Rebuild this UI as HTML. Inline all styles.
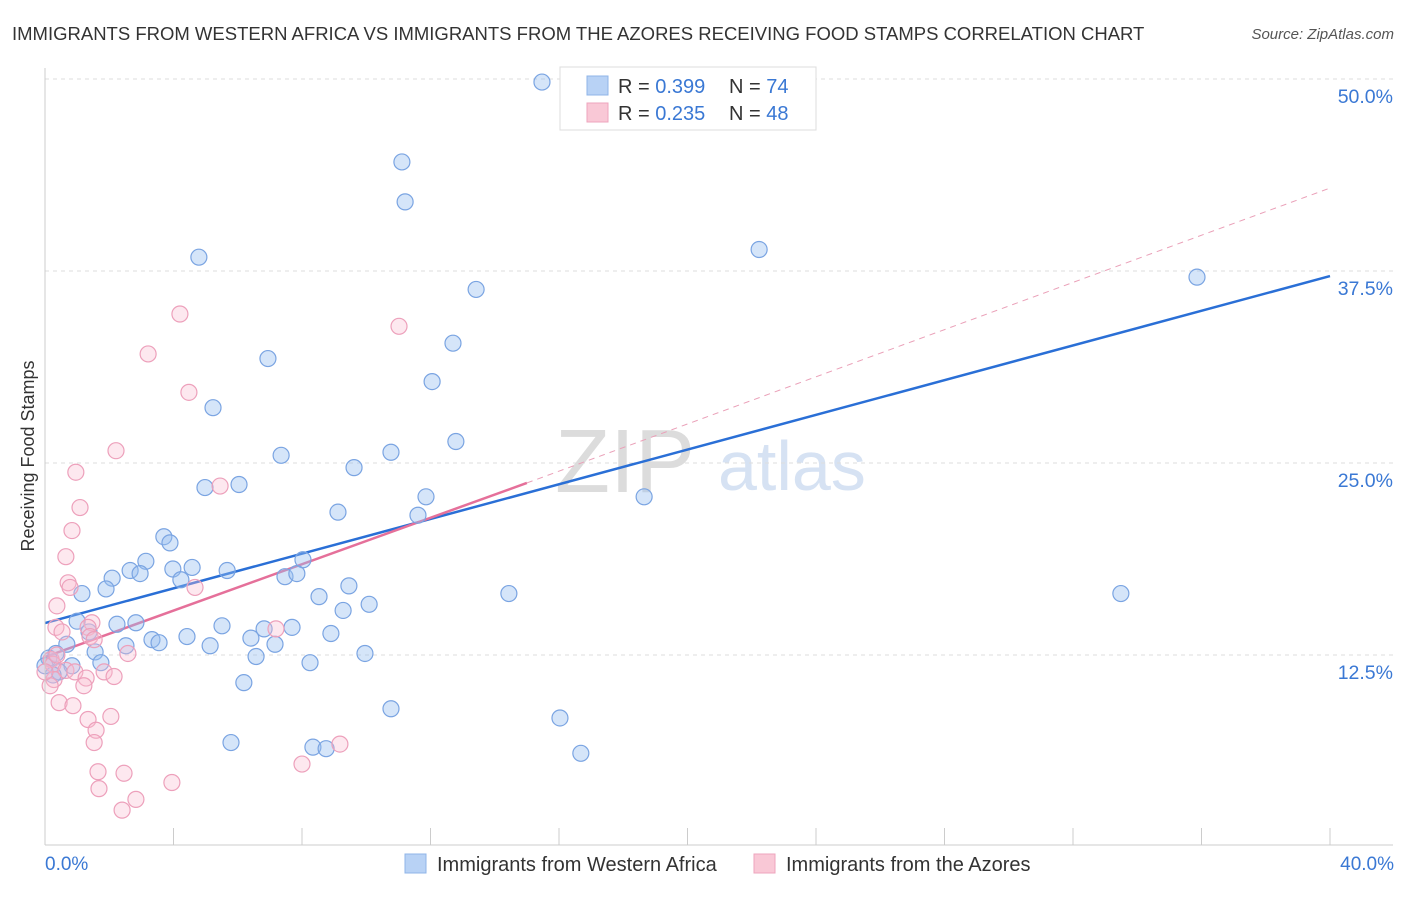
<!DOCTYPE html>
<html><head><meta charset="utf-8"><style>
body{margin:0;background:#fff;font-family:"Liberation Sans",sans-serif;}
svg text{font-family:"Liberation Sans",sans-serif;}
</style></head><body>
<svg id="chart" width="1406" height="892">
<text x="12" y="40" font-size="18.5" fill="#333">IMMIGRANTS FROM WESTERN AFRICA VS IMMIGRANTS FROM THE AZORES RECEIVING FOOD STAMPS CORRELATION CHART</text>
<text x="1394" y="39" font-size="15" fill="#555" font-style="italic" text-anchor="end">Source: ZipAtlas.com</text>
<text x="34" y="456" font-size="18" fill="#333" text-anchor="middle" transform="rotate(-90 34 456)">Receiving Food Stamps</text>
<text x="555" y="492" font-size="90" fill="#dcdcdc" font-family="Liberation Serif">ZIP</text>
<text x="718" y="490" font-size="70" fill="#d6e2f3">atlas</text>
<g id="grid"></g><g id="xticks"></g><g id="trend"></g><g id="pts"></g>
<line x1="45" y1="68" x2="45" y2="845" stroke="#ccc"/>
<line x1="45" y1="845" x2="1393" y2="845" stroke="#ccc"/>
<text x="45" y="870" font-size="19" fill="#3a78d4">0.0%</text>
<text x="1394" y="870" font-size="19" fill="#3a78d4" text-anchor="end">40.0%</text>
<g>
<rect x="560" y="67" width="256" height="63" fill="#fff" stroke="#ddd"/>
<rect x="587" y="76" width="21" height="19" fill="#b8d2f5" stroke="#8fb4e8"/>
<rect x="587" y="103" width="21" height="19" fill="#f9c8d6" stroke="#eea5bd"/>
<text x="618" y="93" font-size="20" fill="#333">R = <tspan fill="#3a78d4">0.399</tspan></text>
<text x="729" y="93" font-size="20" fill="#333">N = <tspan fill="#3a78d4">74</tspan></text>
<text x="618" y="120" font-size="20" fill="#333">R = <tspan fill="#3a78d4">0.235</tspan></text>
<text x="729" y="120" font-size="20" fill="#333">N = <tspan fill="#3a78d4">48</tspan></text>
</g>
<g>
<rect x="405" y="854" width="21" height="19" fill="#b8d2f5" stroke="#8fb4e8"/>
<text x="437" y="871" font-size="20" fill="#333">Immigrants from Western Africa</text>
<rect x="754" y="854" width="21" height="19" fill="#f9c8d6" stroke="#eea5bd"/>
<text x="786" y="871" font-size="20" fill="#333">Immigrants from the Azores</text>
</g>
</svg>
<script>
const yTicks=[12.5,25,37.5,50];
const yTickLabels=["12.5%","25.0%","37.5%","50.0%"];
const xTicks=[0,4,8,12,16,20,24,28,32,36,40];
const blueX=[15.47,11.11,11.21,22.23,35.86,4.79,13.42,6.94,12.70,12.05,5.23,12.79,7.35,10.77,9.62,4.98,6.04,11.86,18.65,9.12,11.61,3.70,3.89,3.14,8.03,2.65,2.09,2.96,3.98,4.58,5.67,4.23,7.47,7.84,1.90,1.15,9.46,8.53,9.28,10.09,14.44,33.49,1.0,2.24,2.83,5.51,6.82,7.69,1.37,3.33,3.55,4.42,5.14,6.41,7.16,8.90,2.52,0.68,1.56,0.34,0.12,1.74,0.84,0.44,0.25,6.57,9.96,8.25,6.19,10.77,16.03,5.79,8.34,8.75,16.68,0.0];
const blueY=[49.8,44.6,42.0,38.9,37.1,38.4,36.3,31.8,32.8,30.3,28.6,26.4,25.5,25.7,24.7,23.4,23.6,22.8,22.8,21.8,21.6,20.2,19.8,18.6,18.7,18.0,17.5,17.8,18.1,18.2,18.0,17.4,17.6,17.8,16.8,16.5,17.0,16.3,15.4,15.8,16.5,16.5,14.7,14.5,14.6,14.4,14.2,14.3,14.0,13.5,13.3,13.7,13.1,13.6,13.2,13.9,13.1,13.2,12.7,12.6,12.3,12.0,11.8,11.4,11.2,12.4,12.6,12.0,10.7,9.0,8.4,6.8,6.5,6.4,6.1,11.8];
const pinkX=[4.20,3.21,11.02,4.48,2.21,0.96,5.45,1.09,0.84,0.65,0.72,0.78,0.37,4.67,1.46,0.34,0.53,1.34,1.40,1.53,2.58,7.19,0.19,0.25,0.65,0.93,1.84,2.15,1.28,0.28,0.16,1.21,0.44,0.87,2.05,1.34,1.59,1.53,9.18,8.00,1.65,2.46,3.95,1.68,2.83,2.40,0,0.37];
const pinkY=[34.7,32.1,33.9,29.6,25.8,24.4,23.5,22.1,20.6,18.9,17.2,16.9,15.7,16.9,14.6,14.3,14.0,14.3,13.7,13.5,12.6,14.2,12.2,11.9,11.5,11.4,11.4,11.1,11.0,10.9,10.5,10.5,9.4,9.2,8.5,8.3,7.6,6.8,6.7,5.4,4.9,4.8,4.2,3.8,3.1,2.4,11.4,12.5];
const blueTrend=[[0,14.58],[40,37.17]];
const pinkTrend=[[0,12.37],[15,23.7]];
const pinkExt=[[15,23.7],[40,42.9]];
const NS='http://www.w3.org/2000/svg';
const sx=v=>45+v*32.125, sy=v=>847-v*15.36;
function mk(t,a,p){const e=document.createElementNS(NS,t);for(const k in a)e.setAttribute(k,a[k]);document.getElementById(p).appendChild(e);return e;}
yTicks.forEach((t,i)=>{
 const l=mk('line',{x1:45,x2:1393,y1:sy(t),y2:sy(t),stroke:'#ddd','stroke-dasharray':'4,4'},'grid');
 
 
 const tx=mk('text',{x:1393,y:sy(t)+24,'font-size':19.5,fill:'#3a78d4','text-anchor':'end'},'grid');
 tx.textContent=yTickLabels[i];
 
 
});
xTicks.forEach(t=>{
 const l=mk('line',{x1:sx(t),x2:sx(t),y1:828,y2:845,stroke:'#ccc'},'xticks');
 
 
});
function line(seg,c,w,dash,name){
 const l=mk('line',{x1:sx(seg[0][0]),y1:sy(seg[0][1]),x2:sx(seg[1][0]),y2:sy(seg[1][1]),stroke:c,'stroke-width':w},'trend');
 if(dash)l.setAttribute('stroke-dasharray',dash);
 
 
}
line(pinkExt,'#eaa0b8',1,'6,5','azores-trend-extension');
line(blueTrend,'#2a6fd6',2.5,null,'western-africa-trend-line');
line(pinkTrend,'#e5709a',2.5,null,'azores-trend-line');
blueX.forEach((x,i)=>{
 const c=mk('circle',{cx:sx(x),cy:sy(blueY[i]),r:8,fill:'rgba(150,190,240,0.4)',stroke:'#7aa4e2','stroke-width':1.2},'pts');
 
 
});
pinkX.forEach((x,i)=>{
 const c=mk('circle',{cx:sx(x),cy:sy(pinkY[i]),r:8,fill:'rgba(248,190,210,0.35)',stroke:'#eda0bb','stroke-width':1.2},'pts');
 
 
});
</script>
</body></html>
